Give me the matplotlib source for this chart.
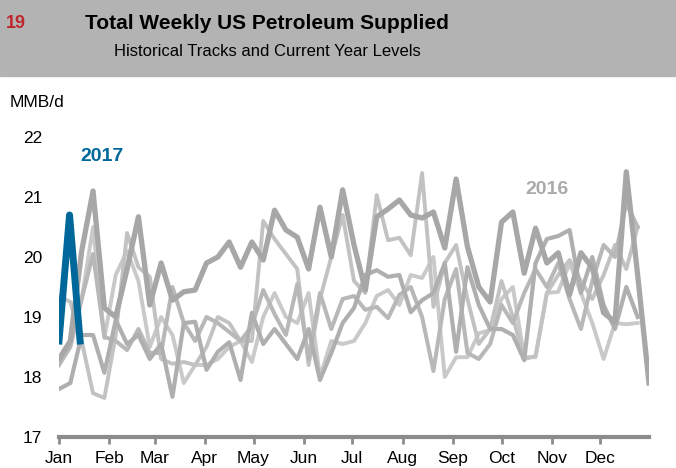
import numpy as np
import matplotlib
matplotlib.use("Agg")
import matplotlib.pyplot as plt
from matplotlib.patches import Rectangle

### Data ###############################################################
# weekly values, MMB/d, one value per week starting Jan 1
y2016 = [18.3, 18.6, 20.1, 21.1, 19.15, 19.0, 19.8, 20.67, 19.2, 19.9,
         19.28, 19.42, 19.45, 19.9, 20.0, 20.25, 19.83, 20.25, 19.95, 20.78,
         20.45, 20.33, 19.8, 20.83, 20.0, 21.12, 20.2, 19.45, 20.67, 20.8,
         20.95, 20.7, 20.65, 20.75, 20.15, 21.3, 20.17, 19.5, 19.25, 20.58,
         20.75, 19.73, 20.48, 19.9, 20.07, 19.37, 20.07, 19.82, 19.07, 18.92,
         21.42, 19.7, 17.9]
y2015 = [17.8, 17.9, 18.7, 18.7, 18.07, 18.95, 18.55, 18.7, 18.3, 18.55,
         17.67, 18.9, 18.92, 18.12, 18.42, 18.58, 17.95, 19.07, 18.55, 18.8,
         18.55, 18.3, 18.8, 17.95, 18.4, 18.9, 19.15, 19.7, 19.78, 19.67,
         19.7, 19.08, 19.28, 19.4, 19.9, 18.42, 19.83, 19.2, 18.8, 18.8,
         18.7, 18.28, 19.9, 20.3, 20.35, 20.45, 19.4, 20.0, 19.2, 18.8,
         19.5, 19.0]
y2014 = [18.2, 18.5, 19.3, 20.05, 18.67, 18.6, 18.45, 18.8, 18.4, 18.4,
         19.5, 18.9, 18.6, 19.0, 18.9, 18.75, 18.6, 18.85, 19.45, 19.05,
         18.7, 19.55, 18.3, 19.4, 18.8, 19.3, 19.35, 19.12, 19.17, 18.98,
         19.37, 19.5, 19.0, 18.1, 19.3, 19.8, 18.4, 18.3, 18.55, 19.2,
         18.9, 19.4, 19.8, 19.5, 19.9, 19.3, 18.8, 19.6, 20.2, 20.0,
         20.9, 20.5]
y2013 = [19.35, 19.25, 18.6, 17.73, 17.65, 18.7, 20.4, 19.83, 19.67, 18.3,
         18.22, 18.25, 18.2, 18.5, 19.0, 18.9, 18.6, 18.6, 20.6, 20.3,
         20.05, 19.8, 18.2, 19.3, 20.0, 20.7, 19.6, 19.4, 21.03, 20.28,
         20.32, 20.03, 21.4, 19.17, 19.9, 20.2, 19.3, 18.55, 18.8, 19.6,
         19.0, 18.3, 18.35, 19.4, 19.7, 19.95, 19.6, 19.3, 19.7, 20.2,
         19.8, 20.5]
y2012 = [18.2, 18.6, 19.3, 20.5, 18.65, 19.7, 20.1, 19.6, 18.5, 19.0,
         18.7, 17.9, 18.2, 18.2, 18.3, 18.5, 18.6, 18.25, 19.0, 19.4,
         19.0, 18.9, 19.4, 18.0, 18.6, 18.55, 18.6, 18.9, 19.35, 19.45,
         19.2, 19.7, 19.65, 20.0, 18.0, 18.33, 18.33, 18.73, 18.78, 19.3,
         19.5, 18.33, 18.33, 19.4, 19.42, 19.9, 19.4, 18.9, 18.3, 18.9,
         18.88, 18.9]
y2017 = [18.6, 20.7, 18.6]

months = ['Jan', 'Feb', 'Mar', 'Apr', 'May', 'Jun',
          'Jul', 'Aug', 'Sep', 'Oct', 'Nov', 'Dec']
month_start = [0, 31, 59, 90, 120, 151, 181, 212, 243, 273, 304, 334]

### Plot ###############################################################
plt.rcParams['font.family'] = ['Liberation Sans', 'DejaVu Sans']
fig = plt.figure(figsize=(6.76, 4.68), dpi=100)

# header band
fig.patches.append(Rectangle((0, 1 - 76 / 468), 1, 76 / 468,
                             transform=fig.transFigure,
                             color='#b3b3b3', zorder=0))
fig.text(6 / 676, 1 - 28 / 468, '19', color='#c0272d', fontsize=13,
         fontweight='bold', va='baseline')
fig.text(267 / 676, 1 - 29 / 468, 'Total Weekly US Petroleum Supplied',
         fontsize=15, fontweight='bold', ha='center', va='baseline')
fig.text(267 / 676, 1 - 56 / 468, 'Historical Tracks and Current Year Levels',
         fontsize=12, ha='center', va='baseline')
fig.text(10 / 676, 1 - 107 / 468, 'MMB/d', fontsize=12.5, va='baseline')

ax = fig.add_axes([59 / 676, 31 / 468, 590 / 676, 300 / 468])

# historical tracks
hist = [(y2012, '#c9c9c9', 2.8), (y2013, '#c2c2c2', 2.8),
        (y2014, '#b8b8b8', 2.9), (y2015, '#afafaf', 3.0),
        (y2016, '#a7a7a7', 3.8)]
for vals, col, lw in hist:
    days = np.arange(len(vals)) * 7
    ax.plot(days, vals, color=col, lw=lw, zorder=2)

# current year
ax.plot(np.arange(len(y2017)) * 6.5, y2017, color='#00679a', lw=5,
        zorder=5)

ax.text(13, 21.6, '2017', color='#00679a', fontsize=14, fontweight='bold')
ax.text(288, 21.05, '2016', color='#aaaaaa', fontsize=14, fontweight='bold')

ax.set_xlim(0, 364)
ax.set_ylim(17, 22)
ax.set_yticks([17, 18, 19, 20, 21, 22])
ax.set_xticks(month_start)
ax.set_xticklabels(months)
for s in ['top', 'right', 'left']:
    ax.spines[s].set_visible(False)
ax.spines['bottom'].set_color('#8c8c8c')
ax.spines['bottom'].set_linewidth(3)
ax.tick_params(axis='y', length=0, pad=12, labelsize=12.5)
ax.tick_params(axis='x', length=5, width=2, color='#8c8c8c',
               labelsize=12.5, pad=5)

fig.savefig('out.png', dpi=100)
